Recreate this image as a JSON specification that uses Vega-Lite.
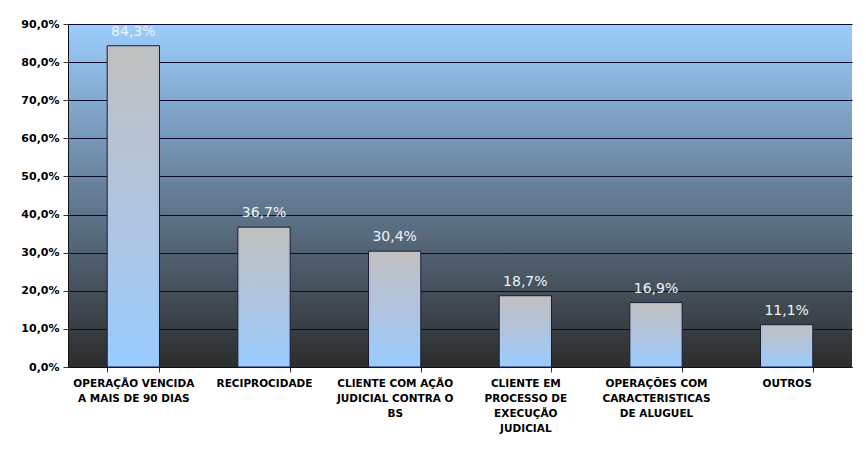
{
  "$schema": "https://vega.github.io/schema/vega-lite/v6.json",
  "width": 784,
  "height": 343,
  "autosize": {"type": "none"},
  "padding": {"left": 68, "top": 24, "right": 14, "bottom": 83},
  "background": "#ffffff",
  "config": {
    "locale": {"number": {"decimal": ",", "thousands": ".", "grouping": [3], "currency": ["R$", ""]}},
    "view": {
      "stroke": null,
      "fill": {"gradient": "linear", "x1": 0, "y1": 0, "x2": 0, "y2": 1,
        "stops": [{"offset": 0, "color": "#9ccdfd"}, {"offset": 1, "color": "#2c2c2c"}]}
    }
  },
  "data": {
    "values": [
      {"categoria": "OPERAÇÃO VENCIDA A MAIS DE 90 DIAS", "valor": 0.843},
      {"categoria": "RECIPROCIDADE", "valor": 0.367},
      {"categoria": "CLIENTE COM AÇÃO JUDICIAL CONTRA O BS", "valor": 0.304},
      {"categoria": "CLIENTE EM PROCESSO DE EXECUÇÃO JUDICIAL", "valor": 0.187},
      {"categoria": "OPERAÇÕES COM CARACTERISTICAS DE ALUGUEL", "valor": 0.169},
      {"categoria": "OUTROS", "valor": 0.111}
    ]
  },
  "encoding": {
    "x": {
      "field": "categoria", "type": "nominal", "sort": null,
      "scale": {"paddingInner": 0.6, "paddingOuter": 0.3},
      "axis": {
        "title": null, "labelAngle": 0, "labelFont": "DejaVu Sans", "labelFontWeight": "bold",
        "labelFontSize": 10.5, "labelColor": "#000000", "labelLineHeight": 15, "labelPadding": 6,
        "labelBaseline": "top", "labelLimit": 200,
        "tickBand": "extent", "tickSize": 5, "tickColor": "#333333", "domainColor": "#111111",
        "labelExpr": "{'OPERAÇÃO VENCIDA A MAIS DE 90 DIAS': ['OPERAÇÃO VENCIDA', 'A MAIS DE 90 DIAS'], 'RECIPROCIDADE': ['RECIPROCIDADE'], 'CLIENTE COM AÇÃO JUDICIAL CONTRA O BS': ['CLIENTE COM AÇÃO', 'JUDICIAL CONTRA O', 'BS'], 'CLIENTE EM PROCESSO DE EXECUÇÃO JUDICIAL': ['CLIENTE EM', 'PROCESSO DE', 'EXECUÇÃO', 'JUDICIAL'], 'OPERAÇÕES COM CARACTERISTICAS DE ALUGUEL': ['OPERAÇÕES COM', 'CARACTERISTICAS', 'DE ALUGUEL'], 'OUTROS': ['OUTROS']}[datum.label]"
      }
    },
    "y": {
      "field": "valor", "type": "quantitative",
      "scale": {"domain": [0, 0.9], "nice": false},
      "axis": {
        "title": null, "values": [0, 0.1, 0.2, 0.3, 0.4, 0.5, 0.6, 0.7, 0.8, 0.9],
        "format": ".1%", "labelFont": "DejaVu Sans", "labelFontWeight": "bold", "labelFontSize": 11,
        "labelColor": "#000000", "labelPadding": 4, "tickSize": 5, "tickColor": "#333333",
        "domainColor": "#111111", "grid": true, "gridColor": "#0a0a30", "gridOpacity": 1, "gridWidth": 1
      }
    }
  },
  "layer": [
    {
      "mark": {
        "type": "bar", "stroke": "#1a1a3a", "strokeWidth": 1,
        "color": {"gradient": "linear", "x1": 0, "y1": 0, "x2": 0, "y2": 1,
          "stops": [{"offset": 0, "color": "#c0c0c0"}, {"offset": 0.5, "color": "#b0c4de"}, {"offset": 1, "color": "#99ccff"}]}
      }
    },
    {
      "mark": {"type": "text", "baseline": "bottom", "dy": -7, "font": "DejaVu Sans", "fontSize": 14, "color": "#eef3fa"},
      "encoding": {"text": {"field": "valor", "type": "quantitative", "format": ".1%"}}
    }
  ]
}
